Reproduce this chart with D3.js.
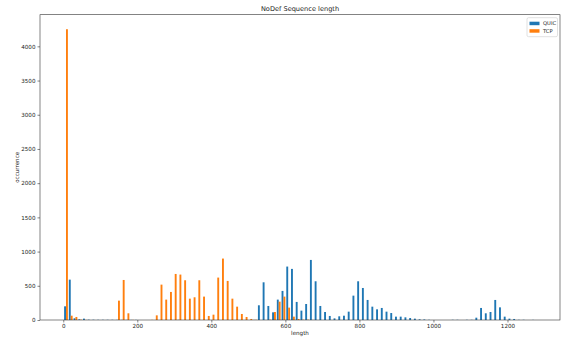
<!DOCTYPE html>
<html>
<head>
<meta charset="utf-8">
<script src="https://cdn.jsdelivr.net/npm/d3@7"></script>
<style>
  body { margin: 0; background: #fff; }
  svg { display: block; }
  text { font-family: "DejaVu Sans", sans-serif; fill: #222; }
</style>
</head>
<body>
<div id="chart-container"></div>
<script>
const W = 562, H = 338;
const margin = { top: 14.7, right: 2, bottom: 18, left: 40 };
const width = W - margin.left - margin.right;
const height = H - margin.top - margin.bottom;

// histogram bins: 100 equal bins between the smallest and largest length
const binLo = 1;
const binHi = 1278;
const binCount = 100;

const seriesNames = ["QUIC", "TCP"];
const seriesColors = ["#1f77b4", "#ff7f0e"];

// counts per bin
const quic = [
  200, 590, 25, 10, 20, 5, 4, 3, 3, 3,
  3, 2, 2, 2, 2, 2, 0, 0, 0, 0,
  0, 0, 0, 0, 3, 0, 0, 0, 0, 0,
  0, 0, 0, 0, 0, 0, 0, 0, 0, 0,
  2, 215, 551, 205, 112, 298, 425, 781, 747, 264,
  137, 234, 878, 566, 205, 117, 59, 24, 54, 63,
  122, 356, 566, 468, 293, 195, 156, 176, 122, 102,
  49, 49, 39, 29, 20, 10, 8, 3, 0, 0,
  0, 0, 3, 3, 0, 3, 3, 34, 176, 98,
  117, 293, 185, 49, 20, 15, 3, 3, 0, 2
];
const tcp = [
  4250, 63, 44, 5, 2, 0, 0, 0, 0, 0,
  0, 283, 585, 98, 2, 0, 0, 0, 2, 68,
  517, 298, 410, 673, 664, 581, 312, 332, 581, 342,
  59, 78, 620, 898, 571, 312, 195, 88, 44, 15,
  3, 0, 0, 5, 117, 268, 342, 181, 49, 15,
  5, 5, 2, 0, 0, 0, 0, 0, 0, 0,
  0, 0, 0, 0, 0, 0, 0, 0, 0, 0,
  0, 0, 0, 0, 0, 0, 0, 0, 0, 0,
  0, 0, 0, 0, 0, 0, 0, 0, 0, 0,
  0, 0, 0, 0, 0, 0, 0, 0, 0, 0
];

const xTicks = [0, 200, 400, 600, 800, 1000, 1200];
const yTicks = [0, 500, 1000, 1500, 2000, 2500, 3000, 3500, 4000];

const binW = (binHi - binLo) / binCount;
const bins = d3.range(binCount).map(i => ({
  x0: binLo + i * binW,
  counts: [quic[i], tcp[i]]
}));

const pad = (binHi - binLo) * 0.05;
const x = d3.scaleLinear()
  .domain([binLo - pad, binHi + pad])
  .range([0, width]);

const yMax = d3.max(bins, d => d3.max(d.counts)) * 1.05;
const y = d3.scaleLinear()
  .domain([0, yMax])
  .range([height, 0]);

const svg = d3.select("#chart-container")
  .append("svg")
  .attr("width", W)
  .attr("height", H);

const g = svg.append("g")
  .attr("transform", `translate(${margin.left},${margin.top})`);

// bars: each bin split in two, 80% of bin used
const barW = x(binLo + binW * 0.4) - x(binLo);
seriesNames.forEach((name, s) => {
  g.append("g")
    .selectAll("rect")
    .data(bins)
    .join("rect")
    .attr("x", d => x(d.x0 + binW * 0.1) + s * barW)
    .attr("y", d => y(d.counts[s]))
    .attr("width", barW)
    .attr("height", d => height - y(d.counts[s]))
    .attr("fill", seriesColors[s]);
});

// axes
const xAxis = g.append("g")
  .attr("transform", `translate(0,${height})`)
  .call(d3.axisBottom(x).tickValues(xTicks).tickSize(2.5).tickPadding(2).tickFormat(d3.format("d")));
const yAxis = g.append("g")
  .call(d3.axisLeft(y).tickValues(yTicks).tickSize(2.5).tickPadding(2).tickFormat(d3.format("d")));

[xAxis, yAxis].forEach(a => {
  a.select(".domain").remove();
  a.selectAll("line").attr("stroke", "#333").attr("stroke-width", 0.6);
  a.selectAll("text").style("font-size", "5.6px").style("font-family", "DejaVu Sans, sans-serif").attr("fill", "#222");
});

// frame
g.append("rect")
  .attr("width", width)
  .attr("height", height)
  .attr("fill", "none")
  .attr("stroke", "#333")
  .attr("stroke-width", 0.6);

// title and labels
svg.append("text")
  .attr("x", margin.left + width / 2)
  .attr("y", margin.top - 4)
  .attr("text-anchor", "middle")
  .style("font-size", "6.6px")
  .text("NoDef Sequence length");

svg.append("text")
  .attr("x", margin.left + width / 2)
  .attr("y", H - 3.5)
  .attr("text-anchor", "middle")
  .style("font-size", "5.6px")
  .text("length");

svg.append("text")
  .attr("transform", `translate(19,${margin.top + height / 2}) rotate(-90)`)
  .attr("text-anchor", "middle")
  .style("font-size", "5.6px")
  .text("occurrence");

// legend
const legend = g.append("g")
  .attr("transform", `translate(${width - 33},3)`);
legend.append("rect")
  .attr("width", 30.5)
  .attr("height", 19)
  .attr("rx", 1.5)
  .attr("fill", "#fff")
  .attr("fill-opacity", 0.8)
  .attr("stroke", "#ccc")
  .attr("stroke-width", 0.6);
seriesNames.forEach((name, s) => {
  legend.append("rect")
    .attr("x", 2.5)
    .attr("y", 4 + s * 7.5)
    .attr("width", 10)
    .attr("height", 3.5)
    .attr("fill", seriesColors[s]);
  legend.append("text")
    .attr("x", 16)
    .attr("y", 7.8 + s * 7.5)
    .style("font-size", "5.2px")
    .text(name);
});
</script>
</body>
</html>
